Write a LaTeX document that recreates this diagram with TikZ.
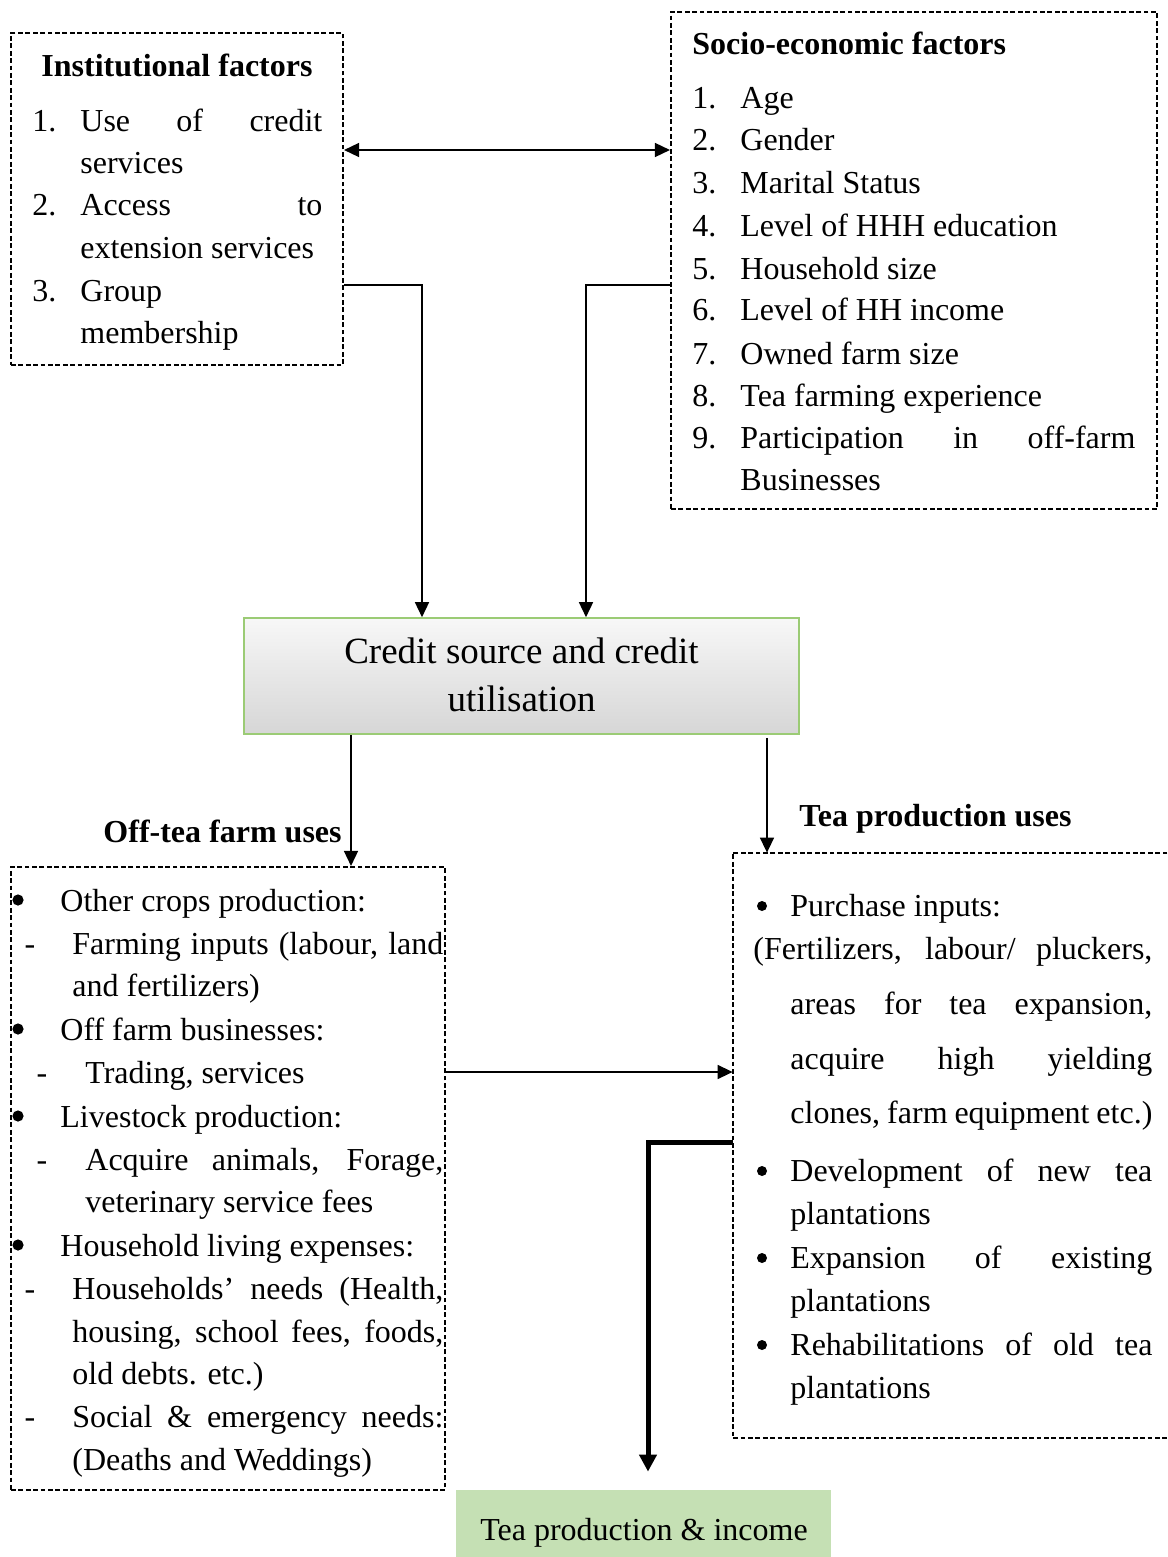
\documentclass[tikz,border=0pt]{standalone}
\usepackage{fontspec}
\setmainfont{Liberation Serif}
\usetikzlibrary{arrows.meta}
\definecolor{boxgreen}{HTML}{9BCB75}
\definecolor{fillgreen}{HTML}{C5E0B4}
\newcommand\fs{\fontsize{16}{21}\selectfont}
\newcommand\jst[2]{\makebox[#1][s]{#2}}
\begin{document}
\begin{tikzpicture}[x=0.5pt,y=-0.5pt,
  dbox/.style={draw, line width=1.05pt, dash pattern=on 2.4pt off 1.3pt, inner sep=0pt},
  txt/.style={anchor=base west, inner sep=0pt, font=\fs, yshift=-1pt},
  ctr/.style={anchor=base, inner sep=0pt, font=\fs, yshift=-1pt},
  ttl/.style={anchor=base west, inner sep=0pt, font=\fs\bfseries, yshift=-1pt},
  bul/.style={circle, fill=black, inner sep=0pt, minimum size=5.6pt},
  arr/.style={line width=0.75pt, -{Triangle[length=7.5pt,width=7pt]}},
  darr/.style={line width=0.75pt, {Triangle[length=7.5pt,width=7pt]}-{Triangle[length=7.5pt,width=7pt]}},
  thickarr/.style={line width=2.5pt, -{Triangle[length=8.5pt,width=8.5pt]}}]
\useasboundingbox (0,0) rectangle (1167,1557);

% helper coordinates
\coordinate (h150) at (0,150);
\coordinate (h285) at (0,285);
\coordinate (h1072) at (0,1072);
\coordinate (h1142) at (0,1142);
\coordinate (v422) at (422,0);
\coordinate (v586) at (586,0);
\coordinate (v351) at (351,0);
\coordinate (v767) at (767,0);
\coordinate (v648) at (648,0);

% boxes
\node[dbox, minimum width=166pt, minimum height=166pt] (inst) at (177,199) {};
\node[dbox, minimum width=243pt, minimum height=248.5pt] (socio) at (914,260.5) {};
\node[draw=boxgreen, line width=0.8pt, top color=black!3, bottom color=black!16,
      minimum width=277.5pt, minimum height=58pt, inner sep=0pt] (credit) at (521.5,676) {};
\node[dbox, minimum width=217pt, minimum height=311.5pt] (offtea) at (228,1178.5) {};
\node[inner sep=0pt, minimum width=217pt, minimum height=292.5pt] (teabox) at (950,1145.5) {};
\draw[line width=1.05pt, dash pattern=on 2.4pt off 1.3pt]
  (teabox.north east) -- (teabox.north west) -- (teabox.south west) -- (teabox.south east);
\node[fill=fillgreen, minimum width=187.5pt, minimum height=33.5pt, inner sep=0pt] (income) at (643.5,1523.5) {};

% Institutional factors
\node[anchor=base, inner sep=0pt, font=\fs\bfseries, yshift=-1pt] (instT) at (177,75) {Institutional factors};
\node[txt] (i1n) at (32,129.5) {1.};
\node[txt] (i1a) at (80,129.5) {\jst{121pt}{Use of credit}};
\node[txt] (i1b) at (80,171.5) {services};
\node[txt] (i2n) at (32,214) {2.};
\node[txt] (i2a) at (80,214) {\jst{121pt}{Access to}};
\node[txt] (i2b) at (80,256) {extension services};
\node[txt] (i3n) at (32,299) {3.};
\node[txt] (i3a) at (80,299) {Group};
\node[txt] (i3b) at (80,341) {membership};

% Socio-economic factors
\node[ttl] (socT) at (692,53) {Socio-economic factors};
\foreach \n/\t/\y in {1/Age/107, 2/Gender/149, 3/Marital Status/192, 4/Level of HHH education/234,
  5/Household size/277, 6/Level of HH income/319, 7/Owned farm size/362, 8/Tea farming experience/404}{
  \node[txt] (sn\n) at (692,\y) {\n.};
  \node[txt] (st\n) at (740,\y) {\t};
}
\node[txt] (sn9) at (692,446) {9.};
\node[txt] (st9a) at (740,446) {\jst{197.5pt}{Participation in off-farm}};
\node[txt] (st9b) at (740,488) {Businesses};

% Credit box text
\node[anchor=base, inner sep=0pt, font=\fontsize{18.5}{24}\selectfont] (cr1) at (521.5,663) {Credit source and credit};
\node[anchor=base, inner sep=0pt, font=\fontsize{18.5}{24}\selectfont] (cr2) at (521.5,711) {utilisation};

% labels
\node[anchor=base east, inner sep=0pt, font=\fs\bfseries, yshift=-1pt] (offL) at (342,840) {Off-tea farm uses};
\node[ttl] (teaL) at (799,824) {Tea production uses};

% Off-tea farm uses list
\node[bul] (ob1) at (18,900) {};
\node[txt] (o1) at (60,909) {Other crops production:};
\node[ctr] (od1) at (30,952) {-};
\node[txt] (o2) at (72,952) {\jst{185.5pt}{Farming inputs (labour, land}};
\node[txt] (o3) at (72,994) {and fertilizers)};
\node[bul] (ob2) at (18,1029) {};
\node[txt] (o4) at (60,1038) {Off farm businesses:};
\node[ctr] (od2) at (42,1081) {-};
\node[txt] (o5) at (85,1081) {Trading, services};
\node[bul] (ob3) at (18,1116) {};
\node[txt] (o6) at (60,1125) {Livestock production:};
\node[ctr] (od3) at (42,1168) {-};
\node[txt] (o7) at (85,1168) {\jst{179pt}{Acquire animals, Forage,}};
\node[txt] (o8) at (85,1210) {veterinary service fees};
\node[bul] (ob4) at (18,1245) {};
\node[txt] (o9) at (60,1254) {Household living expenses:};
\node[ctr] (od4) at (30,1297) {-};
\node[txt] (o10) at (72,1297) {\jst{185.5pt}{Households’ needs (Health,}};
\node[txt] (o11) at (72,1340) {\jst{185.5pt}{housing, school fees, foods,}};
\node[txt] (o12) at (72,1382) {old debts. etc.)};
\node[ctr] (od5) at (30,1425) {-};
\node[txt] (o13) at (72,1425) {\jst{185.5pt}{Social \& emergency needs:}};
\node[txt] (o14) at (72,1468) {(Deaths and Weddings)};

% Tea production uses list
\node[bul, minimum size=5pt] (tb1) at (762,906) {};
\node[txt] (t1) at (790,914) {Purchase inputs:};
\node[txt] (t2) at (753,957) {\jst{199.5pt}{(Fertilizers, labour/ pluckers,}};
\node[txt] (t3) at (790,1012) {\jst{181pt}{areas for tea expansion,}};
\node[txt] (t4) at (790,1067) {\jst{181pt}{acquire high yielding}};
\node[txt] (t5) at (790,1121) {\jst{181pt}{clones, farm equipment etc.)}};
\node[bul, minimum size=5pt] (tb2) at (762,1171) {};
\node[txt] (t6) at (790,1179) {\jst{181pt}{Development of new tea}};
\node[txt] (t7) at (790,1222) {plantations};
\node[bul, minimum size=5pt] (tb3) at (762,1258) {};
\node[txt] (t8) at (790,1266) {\jst{181pt}{Expansion of existing}};
\node[txt] (t9) at (790,1309) {plantations};
\node[bul, minimum size=5pt] (tb4) at (762,1345) {};
\node[txt] (t10) at (790,1353) {\jst{181pt}{Rehabilitations of old tea}};
\node[txt] (t11) at (790,1396) {plantations};

% bottom box text
\node[ctr] (incT) at (644,1538) {Tea production \& income};

% connectors
\draw[darr] (inst.east |- h150) -- (socio.west |- h150);
\draw[arr] (inst.east |- h285) -| (v422 |- credit.north);
\draw[arr] (socio.west |- h285) -| (v586 |- credit.north);
\draw[arr] (v351 |- credit.south) -- (v351 |- offtea.north);
\draw[arr] ([yshift=-1.5pt]v767 |- credit.south) -- (v767 |- teabox.north);
\draw[arr] (offtea.east |- h1072) -- (teabox.west |- h1072);
\draw[thickarr] (teabox.west |- h1142) -| ([yshift=9pt]v648 |- income.north);
\end{tikzpicture}
\end{document}
